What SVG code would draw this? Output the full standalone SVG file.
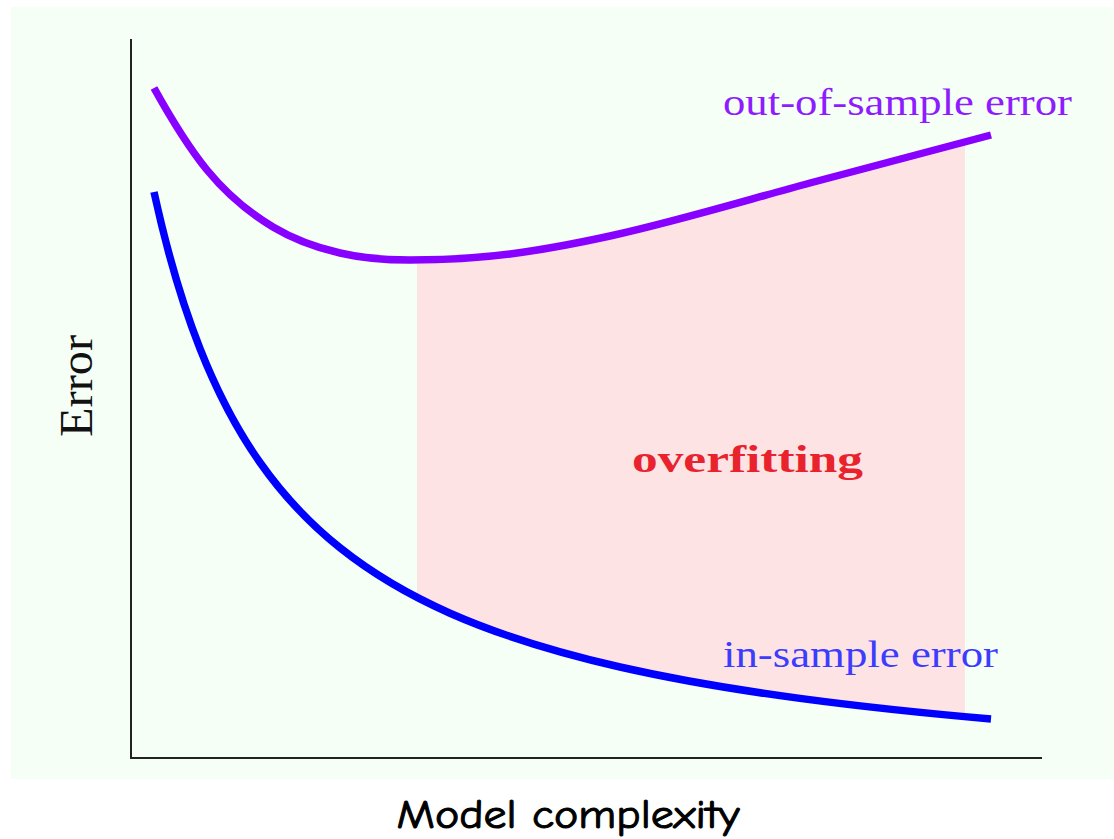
<svg xmlns="http://www.w3.org/2000/svg" width="1114" height="839" viewBox="0 0 1114 839">
  <style>
    .curve { fill: none; stroke-width: 7.5; stroke-linecap: butt; stroke-linejoin: round; }
    .axis { stroke: #222; stroke-width: 2; fill: none; }
    .serif { font-family: "Liberation Serif", "DejaVu Serif", serif; }
  </style>
  <defs>
    <!-- horizontal band where the gap between the two error curves is shaded -->
    <clipPath id="overfitBand">
      <rect x="417" y="0" width="548" height="839"/>
    </clipPath>
  </defs>

  <!-- plot background -->
  <rect id="background" x="11" y="7" width="1103" height="772" fill="#f5fff6"/>

  <!-- overfitting region between out-of-sample and in-sample curves -->
  <g id="overfit-region" clip-path="url(#overfitBand)">
    <path fill="#fde3e3" d="M154,88 C171.67,119.8 189.33,148.4 207,170 C229,196.8 251,213.8 273,227 C295.33,240.4 317.67,247.9 340,253 C363.33,258.4 386.67,260 410,260 C443.33,260 476.67,258.3 510,254 C543.33,249.7 576.67,243.3 610,236 C676.67,221.3 743.33,201 810,183 C870.33,166.7 930.67,150.7 991,135 L991,719 C927.33,713.5 863.67,706.9 800,698.4 C740,690.4 680,680.6 620,667 C563.33,654.1 506.67,638.2 450,613.2 C413.33,597 376.67,577.1 340,547.8 C313.33,526.5 286.67,500.4 260,462.5 C240,434.1 220,399.2 200,348.6 C184.67,309.8 169.33,262.2 154,192 Z"/>
  </g>

  <!-- axes -->
  <g id="axes">
    <line class="axis" x1="131" y1="39" x2="131" y2="759" stroke="#444"/>
    <line class="axis" x1="130" y1="758" x2="1042" y2="758"/>
  </g>

  <!-- error curves -->
  <g id="curves">
    <path id="out-of-sample" class="curve" stroke="#8800ff" d="M154,88 C171.67,119.8 189.33,148.4 207,170 C229,196.8 251,213.8 273,227 C295.33,240.4 317.67,247.9 340,253 C363.33,258.4 386.67,260 410,260 C443.33,260 476.67,258.3 510,254 C543.33,249.7 576.67,243.3 610,236 C676.67,221.3 743.33,201 810,183 C870.33,166.7 930.67,150.7 991,135"/>
    <path id="in-sample" class="curve" stroke="#0000ff" d="M154,192 C169.33,262.2 184.67,309.8 200,348.6 C220,399.2 240,434.1 260,462.5 C286.67,500.4 313.33,526.5 340,547.8 C376.67,577.1 413.33,597 450,613.2 C506.67,638.2 563.33,654.1 620,667 C680,680.6 740,690.4 800,698.4 C863.67,706.9 927.33,713.5 991,719"/>
  </g>

  <!-- labels -->
  <g id="label-out">
    <text class="serif" x="723" y="115" font-size="37" fill="#8f1cff" textLength="349" lengthAdjust="spacingAndGlyphs">out-of-sample error</text>
  </g>
  <g id="label-in">
    <text class="serif" x="723" y="667" font-size="37" fill="#3c3cff" textLength="275" lengthAdjust="spacingAndGlyphs">in-sample error</text>
  </g>
  <g id="label-overfitting">
    <text class="serif" x="632" y="472" font-size="37" font-weight="bold" fill="#e8232d" textLength="231" lengthAdjust="spacingAndGlyphs">overfitting</text>
  </g>
  <g id="label-y">
    <text class="serif" transform="translate(92,386) rotate(-90)" text-anchor="middle" font-size="46" fill="#111" textLength="102" lengthAdjust="spacingAndGlyphs">Error</text>
  </g>
  <g id="label-x">
    <text x="568" y="828" text-anchor="middle" font-family="'Comic Sans MS', 'Comic Neue', 'Noto Sans', sans-serif" font-size="41" fill="#000" stroke="#000" stroke-width="1" textLength="343" lengthAdjust="spacingAndGlyphs">Model complexity</text>
  </g>
</svg>
